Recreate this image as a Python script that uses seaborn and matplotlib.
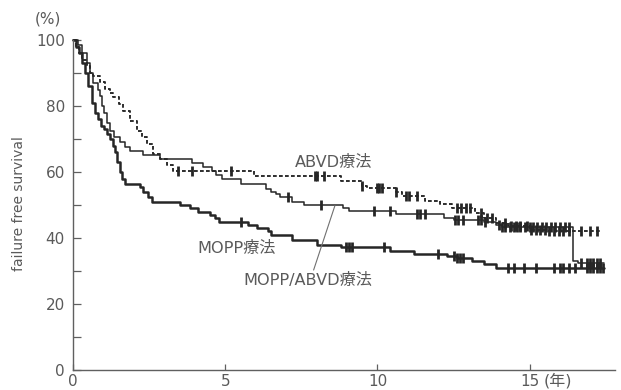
import numpy as np
import pandas as pd
import matplotlib
matplotlib.use("Agg")
import matplotlib.pyplot as plt
import seaborn as sns

# ---------------- data ----------------
mopp_t = [0, 0.1, 0.2, 0.3, 0.4, 0.5, 0.6, 0.7, 0.8, 0.9, 1.0, 1.1, 1.2, 1.3, 1.38,
          1.45, 1.52, 1.6, 1.7, 2.2, 2.3, 2.45, 2.6, 3.5, 3.85, 4.1, 4.5, 4.65, 4.8,
          5.75, 6.05, 6.4, 6.5, 7.2, 8.0, 8.8, 10.4, 11.2, 12.3, 12.6, 13.1, 13.5,
          13.9, 17.45]
mopp_s = [100, 98, 96, 93, 90, 86, 81, 78, 76, 74, 73, 71.5, 70, 68, 66,
          63, 60, 58, 56.5, 55.5, 54, 52.5, 51, 50, 49, 48, 47, 46, 45,
          44, 43, 42, 41, 39.5, 37.8, 37.2, 36.2, 35.3, 34.5, 34, 33, 32,
          31, 31]
mopp_cens = [5.5, 8.95, 9.05, 9.15, 10.2, 12.0, 12.5, 12.6, 12.7, 12.8, 14.3, 14.5,
             14.8, 15.2, 15.8, 16.0, 16.1, 16.3, 16.5, 16.9, 17.0, 17.1, 17.2, 17.3, 17.4]

combo_t = [0, 0.15, 0.3, 0.45, 0.55, 0.66, 0.8, 0.88, 0.95, 1.0, 1.1, 1.21, 1.35,
           1.53, 1.7, 1.87, 2.3, 2.85, 3.9, 4.27, 4.55, 4.7, 4.9, 5.5, 6.35, 6.5,
           6.65, 6.8, 7.2, 7.6, 8.85, 9.05, 10.6, 12.2, 12.5, 13.5, 13.9, 14.1,
           16.42, 16.6, 17.45]
combo_s = [100, 98.5, 96, 93, 90, 87, 85, 83, 80, 78, 75, 72.5, 70.5,
           69, 67.5, 66.5, 65.3, 63.8, 62.7, 61.6, 60.2, 59, 57.8, 56.5, 55, 54,
           53.2, 52.3, 51, 50, 49, 48.2, 47.2, 46, 45.4, 44.8, 44, 43.4,
           33, 32.3, 32.3]
combo_cens = [7.06, 8.15, 9.9, 10.4, 11.3, 11.4, 11.55, 12.55, 12.65, 12.8, 13.3,
              13.4, 13.55, 14.0, 14.1, 14.2, 14.35, 14.5, 14.6, 14.7, 14.85, 15.0,
              15.1, 15.25, 15.4, 15.55, 15.7, 15.85, 16.0, 16.15, 16.3, 16.7, 16.9,
              17.0, 17.1, 17.2, 17.3]

abvd_t = [0, 0.1, 0.2, 0.3, 0.44, 0.55, 0.66, 0.88, 1.05, 1.2, 1.32, 1.5, 1.65,
          1.87, 2.08, 2.25, 2.42, 2.63, 2.86, 3.07, 3.29, 5.95, 8.8, 9.5, 9.65,
          10.6, 10.8, 11.55, 12.05, 12.45, 13.2, 13.5, 13.9, 14.3, 15.0, 15.6, 17.35]
abvd_s = [100, 98, 96, 94, 92, 90, 89, 87.3, 85.2, 84, 82.7, 80.5, 78.6,
          75.6, 72.5, 70.5, 68.5, 65.5, 64, 62, 60.2, 58.8, 57.3, 55.8, 55.2,
          54, 52.8, 51.2, 50.2, 49, 47.5, 46, 44.5, 43.5, 42.5, 42, 42]
abvd_cens = [3.45, 3.9, 5.2, 7.95, 8.02, 8.25, 9.5, 10.0, 10.05, 10.15, 10.6, 10.95,
             11.05, 11.3, 12.6, 12.75, 12.9, 13.05, 13.4, 13.6, 13.75, 14.2, 14.4,
             14.55, 14.7, 14.9, 15.05, 15.2, 15.35, 15.5, 15.65, 15.8, 15.95, 16.1,
             16.3, 16.7, 17.0, 17.2]

x_ticks = [0, 5, 10, 15]
y_ticks = [0, 20, 40, 60, 80, 100]
y_minor = [10, 30, 50, 70, 90]

labels = {"ABVD": "ABVD療法", "MOPP": "MOPP療法", "COMBO": "MOPP/ABVD療法"}

# ---------------- style ----------------
sns.set_style("ticks")
plt.rcParams['font.family'] = ['DejaVu Sans', 'Noto Sans CJK JP']

LINE = "#262626"
TEXT = "#5a5a5a"
SPINE = "#606060"

fig = plt.figure(figsize=(6.21, 3.9), dpi=100)
ax = fig.add_axes([0.118, 0.0513, 0.872, 0.846])


def step_value(ts, ss, q):
    idx = np.searchsorted(np.asarray(ts), np.asarray(q), side="right") - 1
    return np.asarray(ss)[idx]


series = [
    (abvd_t, abvd_s, abvd_cens, 1.35, True),
    (combo_t, combo_s, combo_cens, 1.1, False),
    (mopp_t, mopp_s, mopp_cens, 1.8, False),
]

for ts, ss, cens, lw, dashed in series:
    df = pd.DataFrame({"t": ts, "s": ss})
    sns.lineplot(data=df, x="t", y="s", ax=ax, estimator=None, sort=False,
                 drawstyle="steps-post", color=LINE, linewidth=lw)
    line = ax.lines[-1]
    line.set_clip_on(False)
    if dashed:
        line.set_dashes([2.0, 1.2])
    cy = step_value(ts, ss, cens)
    ax.plot(cens, cy, ls="none", marker="|", markersize=7,
            markeredgewidth=2.0, color=LINE, clip_on=False)

# leader line for MOPP/ABVD label
ax.plot([8.6, 7.9], [49.8, 30.3], color="#707070", lw=0.8)

fs = 11.6
ax.text(7.29, 62.9, labels["ABVD"], fontsize=fs, color=TEXT, va="center", ha="left")
ax.text(4.07, 36.8, labels["MOPP"], fontsize=fs, color=TEXT, va="center", ha="left")
ax.text(5.58, 27.1, labels["COMBO"], fontsize=fs, color=TEXT, va="center", ha="left")

# axes
ax.set_xlim(0, 17.8)
ax.set_ylim(0, 100)
ax.set_xticks(x_ticks)
ax.set_yticks(y_ticks)
ax.set_yticks(y_minor, minor=True)
ax.set_xticklabels([str(v) for v in x_ticks])
ax.set_yticklabels([str(v) for v in y_ticks])
ax.tick_params(axis="both", which="both", direction="in", colors=SPINE,
               labelcolor=TEXT, labelsize=11)
ax.tick_params(axis="y", which="major", length=6, width=0.9, pad=6)
ax.tick_params(axis="y", which="minor", length=6, width=0.9)
ax.tick_params(axis="x", which="major", length=4, width=0.9, pad=3)
ax.set_xlabel("")
ax.set_ylabel("failure free survival", fontsize=10, color=TEXT)
ax.yaxis.set_label_coords(-0.087, 0.505)
sns.despine(ax=ax)
for sp in ["left", "bottom"]:
    ax.spines[sp].set_color(SPINE)
    ax.spines[sp].set_linewidth(1.0)

fig.text(35 / 621, 1 - 19 / 390, "(%)", fontsize=11, color=TEXT, va="center", ha="left")
fig.text(544 / 621, 1 - 381 / 390, "(年)", fontsize=11.5, color=TEXT, va="center", ha="left")

fig.savefig("out.png", dpi=100)
